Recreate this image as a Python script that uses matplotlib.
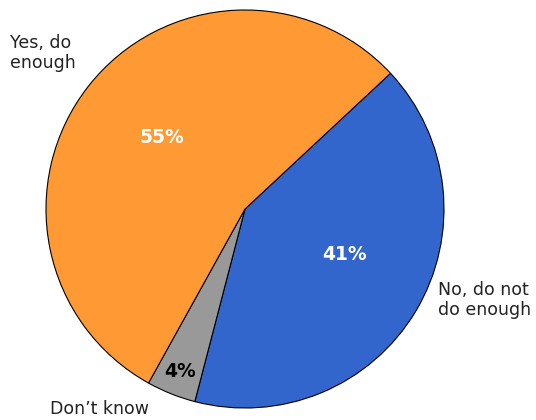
import numpy as np
from matplotlib import pyplot as plt

# slices, clockwise from the upper-right boundary
categories = ["No, do not\ndo enough", "Don\u2019t know", "Yes, do\nenough"]
shares = [41, 4, 55]
pct_labels = ["41%", "4%", "55%"]
colors = ["#3366CC", "#999999", "#FF9933"]
pct_colors = ["white", "black", "white"]
pct_radius = [0.55, 0.88, 0.55]
pct_shift = [6, 0, -3]  # degrees, nudges the label along the arc

fig = plt.figure(figsize=(5.36, 4.2), dpi=100)
ax = fig.add_axes([0, 0, 1, 1])

cx, cy, r = 245, 211, 199
start = 43
wedges, _ = ax.pie(shares, colors=colors, startangle=start, counterclock=False,
                   center=(cx, cy), radius=r, frame=True,
                   wedgeprops=dict(edgecolor="black", linewidth=0.8))
ax.set_xlim(0, 536)
ax.set_ylim(0, 420)
ax.set_aspect("equal")
ax.axis("off")

for w, lab, col, rr, sh in zip(wedges, pct_labels, pct_colors, pct_radius, pct_shift):
    mid = np.deg2rad((w.theta1 + w.theta2) / 2 + sh)
    ax.text(cx + rr * r * np.cos(mid), cy + rr * r * np.sin(mid), lab,
            ha="center", va="center", color=col, fontsize=13.5,
            fontweight="bold")

ax.text(10, 367, categories[2], ha="left", va="center", fontsize=12.5,
        color="#222222", linespacing=1.15)
ax.text(438, 120, categories[0], ha="left", va="center", fontsize=12.5,
        color="#222222", linespacing=1.15)
ax.text(50, 11, categories[1], ha="left", va="center", fontsize=12.5,
        color="#222222")

fig.savefig("out.png", dpi=100)
